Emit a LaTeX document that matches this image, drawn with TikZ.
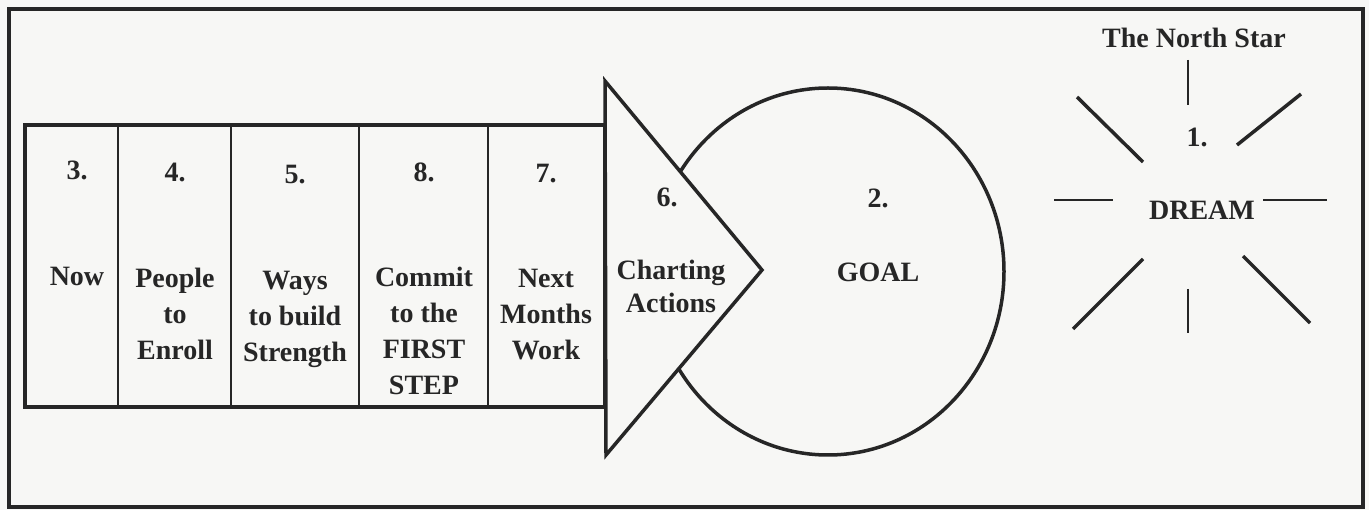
\documentclass[tikz,border=0pt]{standalone}
\usepackage{fontspec}
\setmainfont{Liberation Serif}
\usepackage{tikz}
\definecolor{ink}{RGB}{38,38,38}
\definecolor{paper}{RGB}{247,247,245}

\begin{document}
\begin{tikzpicture}[x=1pt,y=-1pt]
		\tikzset{txt/.style = {font=\bfseries\fontsize{28}{36}\selectfont, align=center, anchor=base, inner sep=0pt, text=ink}}
		\tikzset{ray/.style = {ink, line width=3.5pt}}
		\tikzset{beam/.style = {ink, line width=1.5pt}}
		\fill[paper] (0,0) rectangle (1369,510);
		\useasboundingbox (0,0) rectangle (1369,510);
		\draw[ink, line width=4pt] (9,9) rectangle (1363,507);
		% the steps (base is the last line)
		\draw[ink, line width=4pt] (25,125) rectangle (605,407);
		\foreach \x in {118,231,359,488}
			\draw[ink, line width=2.5pt] (\x,125) -- (\x,407);
		\node[txt] (N3) at (77,180){3.};
		\node[txt] (N4) at (175,182){4.};
		\node[txt] (N5) at (295,184){5.};
		\node[txt] (N8) at (424,182){8.};
		\node[txt] (N7) at (546,183){7.};
		\node[txt] (Now) at (77,286){Now};
		\node[txt] (Enroll) at (175,360){People\\to\\Enroll};
		\node[txt] (Build) at (295,362){Ways\\to build\\Strength};
		\node[txt] (Commit) at (424,395){Commit\\to the\\FIRST\\STEP};
		\node[txt] (Next) at (546,360){Next\\Months\\Work};
		% goal and arrow head
		\draw[ink, line width=3.5pt] (828,271.5) ellipse (176 and 183.5);
		\filldraw[fill=paper, draw=ink, line width=3.5pt] (605,81) -- (762,270) -- (606,455) -- cycle;
		\node[txt] (N6) at (667,207){6.};
		\node[txt, font=\bfseries\fontsize{28}{33}\selectfont] (Chart) at (671,313){Charting\\Actions};
		\node[txt] (N2) at (878,208){2.};
		\node[txt] (Goal) at (878,282){GOAL};
		% the north star
		\node[txt] (Star) at (1194,48){The North Star};
		\node[txt] (N1) at (1197,147){1.};
		\node[txt] (Dream) at (1202,220){DREAM};
		\draw[beam] (1188,60) -- (1188,105);
		\draw[beam] (1188,289) -- (1188,333);
		\draw[beam] (1054,200) -- (1113,200);
		\draw[beam] (1263,200) -- (1327,200);
		\draw[ray] (1077,97) -- (1143,162);
		\draw[ray] (1301,94) -- (1237,145);
		\draw[ray] (1143,259) -- (1073,329);
		\draw[ray] (1243,256) -- (1310,323);
	\end{tikzpicture}
\end{document}
